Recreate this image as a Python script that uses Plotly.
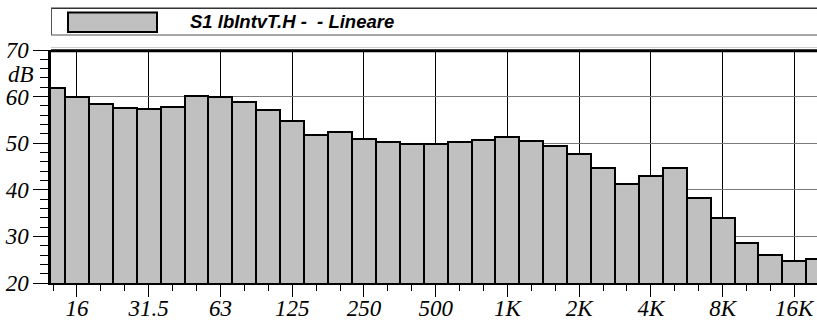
import plotly.graph_objects as go

# 1/3-octave band centres (Hz)
bands = ["12.5", "16", "20", "25", "31.5", "40", "50", "63", "80", "100", "125", "160",
         "200", "250", "315", "400", "500", "630", "800", "1K", "1.25K", "1.6K", "2K",
         "2.5K", "3.15K", "4K", "5K", "6.3K", "8K", "10K", "12.5K", "16K", "20K"]
levels_db = [61.9, 59.9, 58.4, 57.5, 57.3, 57.7, 60.1, 60.0, 58.9, 57.1, 54.7, 51.7,
             52.4, 51.0, 50.2, 49.8, 49.9, 50.2, 50.7, 51.3, 50.4, 49.4, 47.6,
             44.6, 41.3, 42.9, 44.6, 38.3, 34.0, 28.6, 26.1, 24.8, 25.1]
octave_labels = ["16", "31.5", "63", "125", "250", "500", "1K", "2K", "4K", "8K", "16K"]
y_ticks = [20, 30, 40, 50, 60, 70]
series_name = "S1 lbIntvT.H -\u00a0 - Lineare"

W, H = 817, 322
ML, MR, MT, MB = 51, 0, 50, 39
PW, PH = W - ML - MR, H - MT - MB

def px(x):
    return (x - ML) / PW

def py(y):
    return (H - MB - y) / PH

xs = list(range(len(bands)))
oct_pos = [bands.index(b) for b in octave_labels]
x_range = [-0.087, 31.95]

serif = "Liberation Serif, Times New Roman, serif"
fig = go.Figure()
fig.add_trace(go.Bar(
    x=xs, y=levels_db, width=1.0, name=series_name,
    marker=dict(color="#c0c0c0", line=dict(color="black", width=2)),
    showlegend=False,
))
# helper (invisible) trace so the overlay axis carrying the long octave ticks is drawn
fig.add_trace(go.Scatter(x=[oct_pos[0]], y=[None], xaxis="x2", yaxis="y",
                         mode="markers", showlegend=False, hoverinfo="skip"))

fig.update_layout(
    width=W, height=H,
    margin=dict(l=ML, r=MR, t=MT, b=MB, pad=0, autoexpand=False),
    paper_bgcolor="white", plot_bgcolor="white",
    bargap=0,
    xaxis=dict(
        range=x_range, automargin=False,
        tickmode="array", tickvals=oct_pos, ticktext=octave_labels,
        ticks="outside", ticklen=4, tickwidth=1, tickcolor="black",
        showgrid=True, gridcolor="black", gridwidth=1,
        showline=True, linecolor="black", linewidth=1.5,
        zeroline=False,
        tickfont=dict(family=serif, size=23, color="black", style="italic"),
        minor=dict(tickmode="linear", tick0=0, dtick=1, ticks="outside",
                   ticklen=6, tickwidth=1, tickcolor="black", showgrid=False),
    ),
    xaxis2=dict(
        range=x_range, automargin=False, overlaying="x", anchor="y", side="bottom",
        tickmode="array", tickvals=oct_pos, showticklabels=False,
        ticks="outside", ticklen=13, tickwidth=1, tickcolor="black",
        showgrid=False, showline=False, zeroline=False,
    ),
    yaxis=dict(
        range=[20, 70], automargin=False,
        tickmode="array", tickvals=y_ticks,
        ticks="outside", ticklen=15, tickwidth=1, tickcolor="black",
        showgrid=True, gridcolor="#7a7a7a", gridwidth=1,
        showline=True, linecolor="black", linewidth=2.5,
        zeroline=False,
        tickfont=dict(family=serif, size=23, color="black", style="italic"),
        minor=dict(tickmode="linear", tick0=20, dtick=2, ticks="outside",
                   ticklen=8, tickwidth=1, tickcolor="black", showgrid=False),
    ),
    shapes=[
        # thick top border of plot
        dict(type="line", xref="paper", yref="paper", x0=0, x1=px(W + 5), y0=py(50.8), y1=py(50.8),
             line=dict(color="black", width=3)),
        dict(type="line", xref="paper", yref="paper", x0=0, x1=px(W + 5), y0=py(47.5), y1=py(47.5),
             line=dict(color="#cfcfcf", width=1)),
        # legend frame
        dict(type="line", xref="paper", yref="paper", x0=px(51), x1=px(W + 5), y0=py(8.3), y1=py(8.3),
             line=dict(color="#333333", width=1.5)),
        dict(type="line", xref="paper", yref="paper", x0=px(51), x1=px(W + 5), y0=py(35), y1=py(35),
             line=dict(color="#8a8a8a", width=1.5)),
        dict(type="line", xref="paper", yref="paper", x0=px(51.5), x1=px(51.5), y0=py(8.3), y1=py(35),
             line=dict(color="#555555", width=1)),
        # legend swatch
        dict(type="rect", xref="paper", yref="paper", x0=px(68), x1=px(157), y0=py(32), y1=py(12.5),
             fillcolor="#c0c0c0", line=dict(color="black", width=2)),
    ],
    annotations=[
        dict(text=series_name, xref="paper", yref="paper", x=px(291.5), y=py(21.5),
             xanchor="center", yanchor="middle", showarrow=False,
             font=dict(family="Liberation Sans, Arial, sans-serif", size=18.5, color="black",
                       weight="bold", style="italic")),
        dict(text="dB", xref="paper", yref="paper", x=px(21), y=py(75),
             xanchor="center", yanchor="middle", showarrow=False,
             font=dict(family=serif, size=23, color="black", style="italic")),
    ],
)

fig.write_html("out.html", config={"displayModeBar": False},
               post_script="document.body.style.margin='0';document.body.style.overflow='hidden';")
